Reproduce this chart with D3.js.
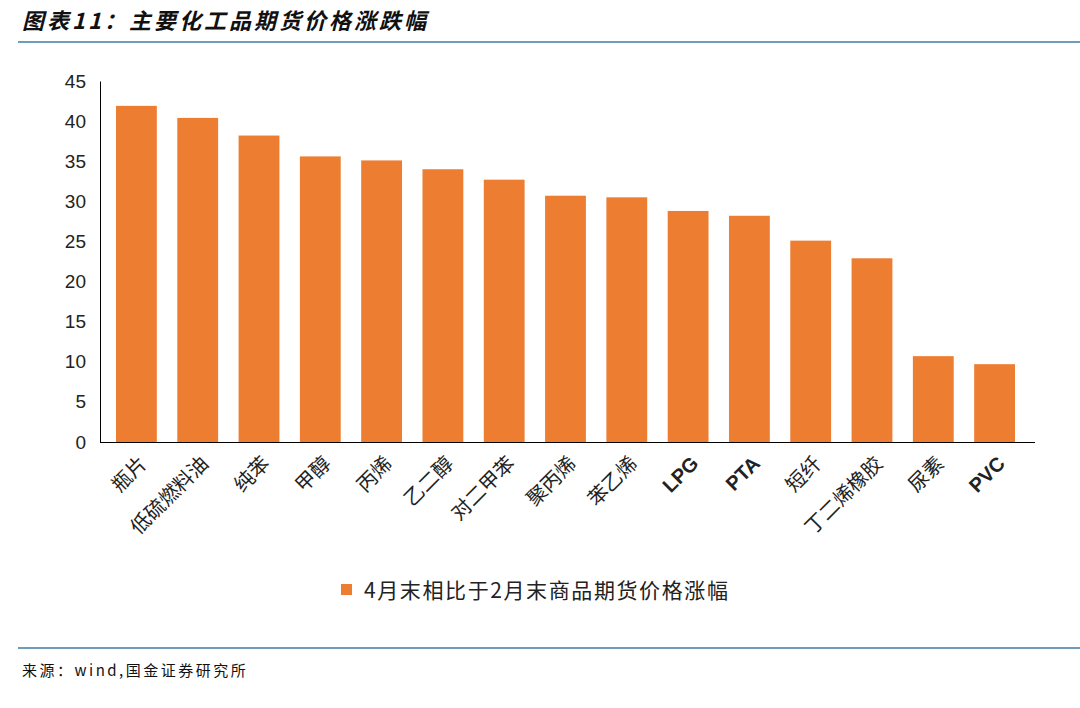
<!DOCTYPE html>
<html><head><meta charset="utf-8">
<script src="https://cdn.jsdelivr.net/npm/d3@7"></script>
<style>body{margin:0;background:#fff}</style>
</head><body>
<svg id="c" width="1080" height="708"></svg>
<script>
const categories = ["瓶片","低硫燃料油","纯苯","甲醇","丙烯","乙二醇","对二甲苯","聚丙烯","苯乙烯","LPG","PTA","短纤","丁二烯橡胶","尿素","PVC"];
const values = [41.9,40.4,38.2,35.6,35.1,34.0,32.7,30.7,30.5,28.8,28.2,25.1,22.9,10.7,9.7];
const yTicks = [0,5,10,15,20,25,30,35,40,45];
const seriesName = "4月末相比于2月末商品期货价格涨幅";

const svg = d3.select("#c");
const font = "'Noto Sans CJK SC', sans-serif";
const orange = "#ED7D31", rule = "#3E7BA6";

svg.append("text").attr("x", 22).attr("y", 29)
  .attr("font-family", font).attr("font-size", 22).attr("font-weight", "bold")
  .attr("font-style", "italic").attr("letter-spacing", 3).attr("fill", "#111")
  .text("图表11：主要化工品期货价格涨跌幅");
svg.append("line").attr("x1", 18).attr("x2", 1080).attr("y1", 42).attr("y2", 42)
  .attr("stroke", rule).attr("stroke-width", 1.5);

const x = d3.scaleBand().domain(categories).range([116, 1015]).paddingInner(0.334).paddingOuter(0);
const y = d3.scaleLinear().domain([0, 45]).range([442, 81]);

svg.append("g").attr("transform", "translate(100,0)")
  .call(d3.axisLeft(y).tickValues(yTicks).tickSize(0).tickPadding(14))
  .call(g => g.select(".domain").attr("stroke", "#000"))
  .selectAll("text").attr("font-family", "Liberation Sans, Arial").attr("font-size", 19).attr("fill", "#222");

svg.selectAll("rect.bar").data(values).join("rect").attr("class", "bar")
  .attr("x", (d, i) => x(categories[i])).attr("width", x.bandwidth())
  .attr("y", d => y(d)).attr("height", d => y(0) - y(d)).attr("fill", orange);

svg.append("line").attr("x1", 100).attr("x2", 1035).attr("y1", 442.5).attr("y2", 442.5)
  .attr("stroke", "#000");

svg.selectAll("text.cat").data(categories).join("text").attr("class", "cat")
  .attr("transform", d => `translate(${x(d) + x.bandwidth() / 2 + 8},461) rotate(-45)`)
  .attr("text-anchor", "end").attr("dominant-baseline", "middle")
  .attr("font-family", d => /^[A-Z]+$/.test(d) ? "Liberation Sans, Arial" : font)
  .attr("font-weight", d => /^[A-Z]+$/.test(d) ? "bold" : "normal")
  .attr("font-size", 20).attr("fill", "#222").text(d => d);

svg.append("rect").attr("x", 341).attr("y", 584).attr("width", 11).attr("height", 11).attr("fill", orange);
svg.append("text").attr("x", 364).attr("y", 598).attr("font-family", font).attr("font-size", 21)
  .attr("letter-spacing", 1.6).attr("fill", "#222").text(seriesName);

svg.append("line").attr("x1", 18).attr("x2", 1080).attr("y1", 648).attr("y2", 648)
  .attr("stroke", rule).attr("stroke-width", 1.5);
svg.append("text").attr("x", 22).attr("y", 676).attr("font-family", font).attr("font-size", 15)
  .attr("letter-spacing", 2.5).attr("fill", "#111").text("来源：wind,国金证券研究所");
</script>
</body></html>
